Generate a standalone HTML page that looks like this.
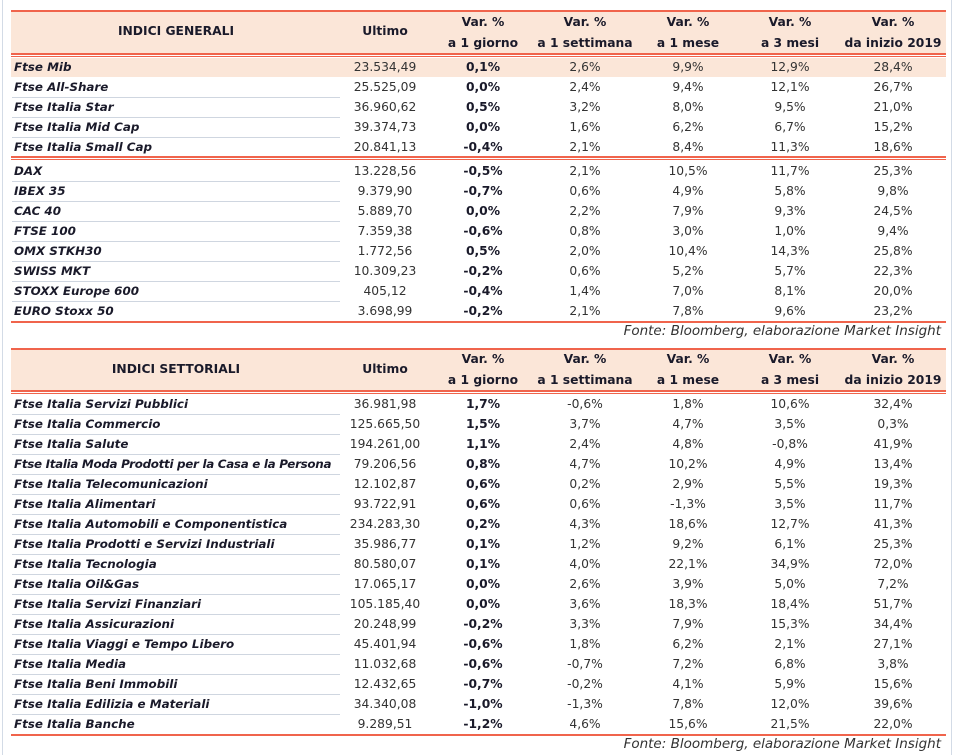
<!DOCTYPE html>
<html><head><meta charset="utf-8"><style>
body{margin:0;background:#fff;}
#p{position:relative;width:953px;height:756px;overflow:hidden;font-family:"DejaVu Sans","Liberation Sans",sans-serif;font-size:12.3px;color:#333;}
.bd{position:absolute;left:2px;top:0;width:948px;height:755px;border-left:1px solid #d3dbe6;border-right:1px solid #d3dbe6;}
.ln{position:absolute;left:11px;width:935px;height:2px;background:#f0644c;}
.hb{position:absolute;left:11px;width:935px;background:#fbe6d8;}
.r{position:absolute;left:0;width:953px;height:20px;line-height:20px;}
.r span{position:absolute;width:110px;text-align:center;top:0;white-space:nowrap;}
.r .l{left:14px;width:330px;text-align:left;font-weight:bold;font-style:italic;color:#1a1a2a;font-size:11.9px;}
.r .b{font-weight:bold;color:#1a1a2a;}
.sep{position:absolute;left:12px;width:328px;height:1px;background:#cfd6e0;}
.h span{font-weight:bold;color:#1a1a2a;position:absolute;width:120px;text-align:center;white-space:nowrap;}
.f{position:absolute;right:12px;font-style:italic;color:#333;font-size:13.5px;}
</style></head><body><div id="p">
<div class="bd"></div>

<div class="ln" style="top:10px"></div>
<div class="hb" style="top:12px;height:41px"></div>
<div class="h" style="position:absolute;top:0;left:0">
<span style="left:106px;width:140px;top:24px">INDICI GENERALI</span>
<span style="left:325px;top:24px">Ultimo</span>
<span style="left:423px;top:15px">Var. %</span><span style="left:423px;top:36px">a 1 giorno</span>
<span style="left:525px;top:15px">Var. %</span><span style="left:525px;top:36px">a 1 settimana</span>
<span style="left:628px;top:15px">Var. %</span><span style="left:628px;top:36px">a 1 mese</span>
<span style="left:730px;top:15px">Var. %</span><span style="left:730px;top:36px">a 3 mesi</span>
<span style="left:833px;top:15px">Var. %</span><span style="left:833px;top:36px">da inizio 2019</span>
</div>
<div class="ln" style="top:53px"></div><div class="ln" style="top:56px;height:1px"></div>
<div class="hb" style="top:58px;height:19px;width:330px"></div>
<div class="hb" style="top:58px;height:19px;left:340px;width:606px"></div>

<div class="ln" style="top:156px"></div><div class="ln" style="top:159px;height:1px"></div>
<div class="ln" style="top:321px"></div>
<div class="f" style="top:323px">Fonte: Bloomberg, elaborazione Market Insight</div>

<div class="ln" style="top:348px"></div>
<div class="hb" style="top:350px;height:40px"></div>
<div class="h" style="position:absolute;top:0;left:0">
<span style="left:106px;width:140px;top:362px">INDICI SETTORIALI</span>
<span style="left:325px;top:362px">Ultimo</span>
<span style="left:423px;top:352px">Var. %</span><span style="left:423px;top:373px">a 1 giorno</span>
<span style="left:525px;top:352px">Var. %</span><span style="left:525px;top:373px">a 1 settimana</span>
<span style="left:628px;top:352px">Var. %</span><span style="left:628px;top:373px">a 1 mese</span>
<span style="left:730px;top:352px">Var. %</span><span style="left:730px;top:373px">a 3 mesi</span>
<span style="left:833px;top:352px">Var. %</span><span style="left:833px;top:373px">da inizio 2019</span>
</div>
<div class="ln" style="top:390px"></div><div class="ln" style="top:393px;height:1px"></div>
<div class="ln" style="top:734px"></div>
<div class="f" style="top:736px">Fonte: Bloomberg, elaborazione Market Insight</div>

<div class="r" style="top:57px"><span class="l">Ftse Mib</span><span style="left:330px">23.534,49</span><span class="b" style="left:428px">0,1%</span><span style="left:530px">2,6%</span><span style="left:633px">9,9%</span><span style="left:735px">12,9%</span><span style="left:838px">28,4%</span></div>
<div class="r" style="top:77px"><span class="l">Ftse All-Share</span><span style="left:330px">25.525,09</span><span class="b" style="left:428px">0,0%</span><span style="left:530px">2,4%</span><span style="left:633px">9,4%</span><span style="left:735px">12,1%</span><span style="left:838px">26,7%</span></div>
<div class="sep" style="top:97px"></div>
<div class="r" style="top:97px"><span class="l">Ftse Italia Star</span><span style="left:330px">36.960,62</span><span class="b" style="left:428px">0,5%</span><span style="left:530px">3,2%</span><span style="left:633px">8,0%</span><span style="left:735px">9,5%</span><span style="left:838px">21,0%</span></div>
<div class="sep" style="top:117px"></div>
<div class="r" style="top:117px"><span class="l">Ftse Italia Mid Cap</span><span style="left:330px">39.374,73</span><span class="b" style="left:428px">0,0%</span><span style="left:530px">1,6%</span><span style="left:633px">6,2%</span><span style="left:735px">6,7%</span><span style="left:838px">15,2%</span></div>
<div class="sep" style="top:137px"></div>
<div class="r" style="top:137px"><span class="l">Ftse Italia Small Cap</span><span style="left:330px">20.841,13</span><span class="b" style="left:428px">-0,4%</span><span style="left:530px">2,1%</span><span style="left:633px">8,4%</span><span style="left:735px">11,3%</span><span style="left:838px">18,6%</span></div>

<div class="r" style="top:161px"><span class="l">DAX</span><span style="left:330px">13.228,56</span><span class="b" style="left:428px">-0,5%</span><span style="left:530px">2,1%</span><span style="left:633px">10,5%</span><span style="left:735px">11,7%</span><span style="left:838px">25,3%</span></div>
<div class="sep" style="top:181px"></div>
<div class="r" style="top:181px"><span class="l">IBEX 35</span><span style="left:330px">9.379,90</span><span class="b" style="left:428px">-0,7%</span><span style="left:530px">0,6%</span><span style="left:633px">4,9%</span><span style="left:735px">5,8%</span><span style="left:838px">9,8%</span></div>
<div class="sep" style="top:201px"></div>
<div class="r" style="top:201px"><span class="l">CAC 40</span><span style="left:330px">5.889,70</span><span class="b" style="left:428px">0,0%</span><span style="left:530px">2,2%</span><span style="left:633px">7,9%</span><span style="left:735px">9,3%</span><span style="left:838px">24,5%</span></div>
<div class="sep" style="top:221px"></div>
<div class="r" style="top:221px"><span class="l">FTSE 100</span><span style="left:330px">7.359,38</span><span class="b" style="left:428px">-0,6%</span><span style="left:530px">0,8%</span><span style="left:633px">3,0%</span><span style="left:735px">1,0%</span><span style="left:838px">9,4%</span></div>
<div class="sep" style="top:241px"></div>
<div class="r" style="top:241px"><span class="l">OMX STKH30</span><span style="left:330px">1.772,56</span><span class="b" style="left:428px">0,5%</span><span style="left:530px">2,0%</span><span style="left:633px">10,4%</span><span style="left:735px">14,3%</span><span style="left:838px">25,8%</span></div>
<div class="sep" style="top:261px"></div>
<div class="r" style="top:261px"><span class="l">SWISS MKT</span><span style="left:330px">10.309,23</span><span class="b" style="left:428px">-0,2%</span><span style="left:530px">0,6%</span><span style="left:633px">5,2%</span><span style="left:735px">5,7%</span><span style="left:838px">22,3%</span></div>
<div class="sep" style="top:281px"></div>
<div class="r" style="top:281px"><span class="l">STOXX Europe 600</span><span style="left:330px">405,12</span><span class="b" style="left:428px">-0,4%</span><span style="left:530px">1,4%</span><span style="left:633px">7,0%</span><span style="left:735px">8,1%</span><span style="left:838px">20,0%</span></div>
<div class="sep" style="top:301px"></div>
<div class="r" style="top:301px"><span class="l">EURO Stoxx 50</span><span style="left:330px">3.698,99</span><span class="b" style="left:428px">-0,2%</span><span style="left:530px">2,1%</span><span style="left:633px">7,8%</span><span style="left:735px">9,6%</span><span style="left:838px">23,2%</span></div>

<div class="r" style="top:394px"><span class="l">Ftse Italia Servizi Pubblici</span><span style="left:330px">36.981,98</span><span class="b" style="left:428px">1,7%</span><span style="left:530px">-0,6%</span><span style="left:633px">1,8%</span><span style="left:735px">10,6%</span><span style="left:838px">32,4%</span></div>
<div class="sep" style="top:414px"></div>
<div class="r" style="top:414px"><span class="l">Ftse Italia Commercio</span><span style="left:330px">125.665,50</span><span class="b" style="left:428px">1,5%</span><span style="left:530px">3,7%</span><span style="left:633px">4,7%</span><span style="left:735px">3,5%</span><span style="left:838px">0,3%</span></div>
<div class="sep" style="top:434px"></div>
<div class="r" style="top:434px"><span class="l">Ftse Italia Salute</span><span style="left:330px">194.261,00</span><span class="b" style="left:428px">1,1%</span><span style="left:530px">2,4%</span><span style="left:633px">4,8%</span><span style="left:735px">-0,8%</span><span style="left:838px">41,9%</span></div>
<div class="sep" style="top:454px"></div>
<div class="r" style="top:454px"><span class="l" style="letter-spacing:-0.3px">Ftse Italia Moda Prodotti per la Casa e la Persona</span><span style="left:330px">79.206,56</span><span class="b" style="left:428px">0,8%</span><span style="left:530px">4,7%</span><span style="left:633px">10,2%</span><span style="left:735px">4,9%</span><span style="left:838px">13,4%</span></div>
<div class="sep" style="top:474px"></div>
<div class="r" style="top:474px"><span class="l">Ftse Italia Telecomunicazioni</span><span style="left:330px">12.102,87</span><span class="b" style="left:428px">0,6%</span><span style="left:530px">0,2%</span><span style="left:633px">2,9%</span><span style="left:735px">5,5%</span><span style="left:838px">19,3%</span></div>
<div class="sep" style="top:494px"></div>
<div class="r" style="top:494px"><span class="l">Ftse Italia Alimentari</span><span style="left:330px">93.722,91</span><span class="b" style="left:428px">0,6%</span><span style="left:530px">0,6%</span><span style="left:633px">-1,3%</span><span style="left:735px">3,5%</span><span style="left:838px">11,7%</span></div>
<div class="sep" style="top:514px"></div>
<div class="r" style="top:514px"><span class="l">Ftse Italia Automobili e Componentistica</span><span style="left:330px">234.283,30</span><span class="b" style="left:428px">0,2%</span><span style="left:530px">4,3%</span><span style="left:633px">18,6%</span><span style="left:735px">12,7%</span><span style="left:838px">41,3%</span></div>
<div class="sep" style="top:534px"></div>
<div class="r" style="top:534px"><span class="l">Ftse Italia Prodotti e Servizi Industriali</span><span style="left:330px">35.986,77</span><span class="b" style="left:428px">0,1%</span><span style="left:530px">1,2%</span><span style="left:633px">9,2%</span><span style="left:735px">6,1%</span><span style="left:838px">25,3%</span></div>
<div class="sep" style="top:554px"></div>
<div class="r" style="top:554px"><span class="l">Ftse Italia Tecnologia</span><span style="left:330px">80.580,07</span><span class="b" style="left:428px">0,1%</span><span style="left:530px">4,0%</span><span style="left:633px">22,1%</span><span style="left:735px">34,9%</span><span style="left:838px">72,0%</span></div>
<div class="sep" style="top:574px"></div>
<div class="r" style="top:574px"><span class="l">Ftse Italia Oil&amp;Gas</span><span style="left:330px">17.065,17</span><span class="b" style="left:428px">0,0%</span><span style="left:530px">2,6%</span><span style="left:633px">3,9%</span><span style="left:735px">5,0%</span><span style="left:838px">7,2%</span></div>
<div class="sep" style="top:594px"></div>
<div class="r" style="top:594px"><span class="l">Ftse Italia Servizi Finanziari</span><span style="left:330px">105.185,40</span><span class="b" style="left:428px">0,0%</span><span style="left:530px">3,6%</span><span style="left:633px">18,3%</span><span style="left:735px">18,4%</span><span style="left:838px">51,7%</span></div>
<div class="sep" style="top:614px"></div>
<div class="r" style="top:614px"><span class="l">Ftse Italia Assicurazioni</span><span style="left:330px">20.248,99</span><span class="b" style="left:428px">-0,2%</span><span style="left:530px">3,3%</span><span style="left:633px">7,9%</span><span style="left:735px">15,3%</span><span style="left:838px">34,4%</span></div>
<div class="sep" style="top:634px"></div>
<div class="r" style="top:634px"><span class="l">Ftse Italia Viaggi e Tempo Libero</span><span style="left:330px">45.401,94</span><span class="b" style="left:428px">-0,6%</span><span style="left:530px">1,8%</span><span style="left:633px">6,2%</span><span style="left:735px">2,1%</span><span style="left:838px">27,1%</span></div>
<div class="sep" style="top:654px"></div>
<div class="r" style="top:654px"><span class="l">Ftse Italia Media</span><span style="left:330px">11.032,68</span><span class="b" style="left:428px">-0,6%</span><span style="left:530px">-0,7%</span><span style="left:633px">7,2%</span><span style="left:735px">6,8%</span><span style="left:838px">3,8%</span></div>
<div class="sep" style="top:674px"></div>
<div class="r" style="top:674px"><span class="l">Ftse Italia Beni Immobili</span><span style="left:330px">12.432,65</span><span class="b" style="left:428px">-0,7%</span><span style="left:530px">-0,2%</span><span style="left:633px">4,1%</span><span style="left:735px">5,9%</span><span style="left:838px">15,6%</span></div>
<div class="sep" style="top:694px"></div>
<div class="r" style="top:694px"><span class="l">Ftse Italia Edilizia e Materiali</span><span style="left:330px">34.340,08</span><span class="b" style="left:428px">-1,0%</span><span style="left:530px">-1,3%</span><span style="left:633px">7,8%</span><span style="left:735px">12,0%</span><span style="left:838px">39,6%</span></div>
<div class="sep" style="top:714px"></div>
<div class="r" style="top:714px"><span class="l">Ftse Italia Banche</span><span style="left:330px">9.289,51</span><span class="b" style="left:428px">-1,2%</span><span style="left:530px">4,6%</span><span style="left:633px">15,6%</span><span style="left:735px">21,5%</span><span style="left:838px">22,0%</span></div>
</div></body></html>
